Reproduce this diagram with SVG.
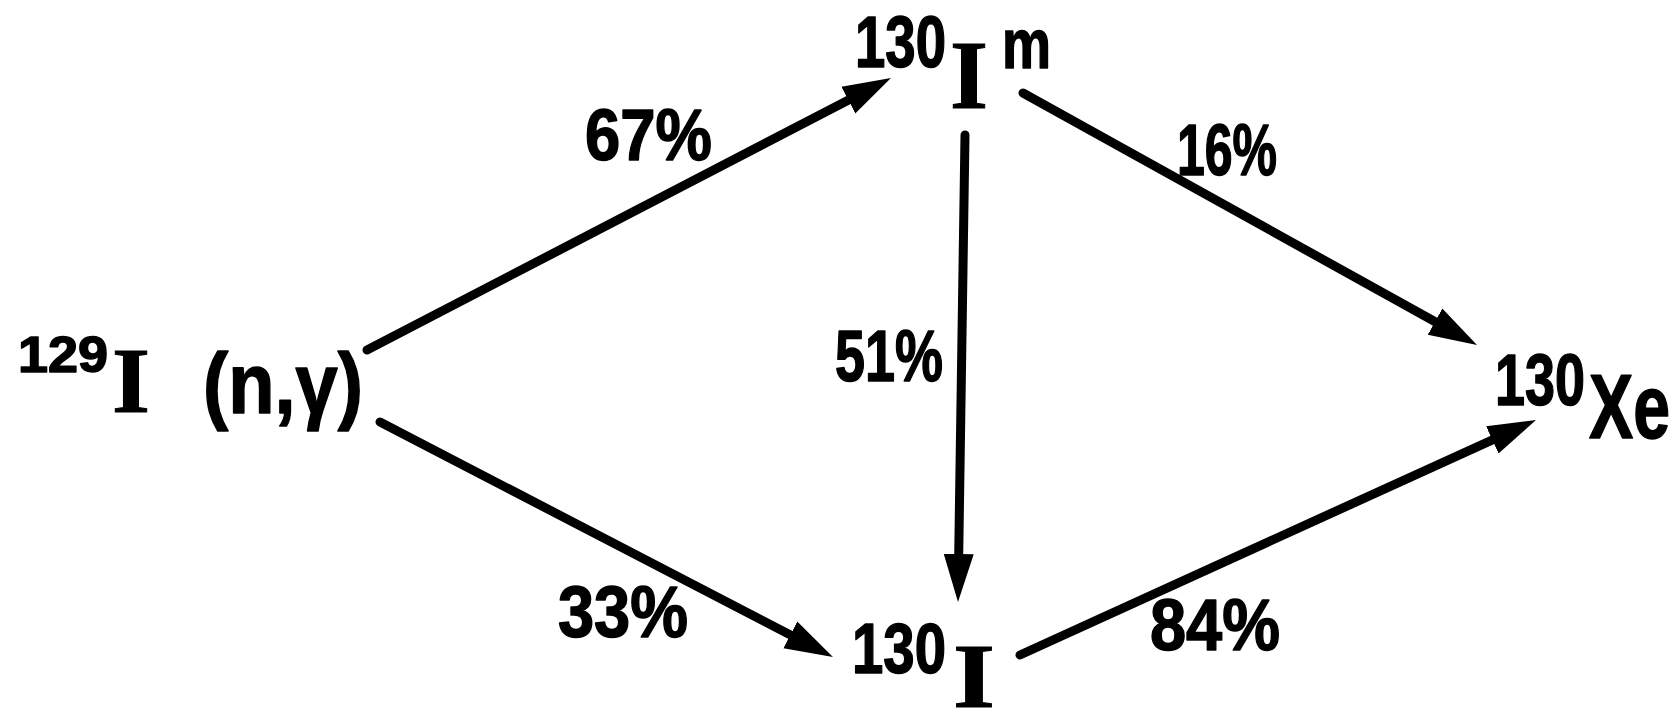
<svg xmlns="http://www.w3.org/2000/svg" width="1675" height="709" viewBox="0 0 1675 709">
<style>
.t{font-family:"Liberation Sans",Arial,sans-serif;font-weight:bold;fill:#000;stroke:#000;stroke-width:1.5;stroke-linejoin:round}
.s{font-family:"Liberation Serif","Times New Roman",serif;font-weight:bold;fill:#000;stroke:#000;stroke-width:1}
.c{stroke:#000;stroke-width:9;fill:none;stroke-linecap:round;marker-end:url(#ah)}
</style>
<defs>
<marker id="ah" viewBox="0 0 48 34" refX="28" refY="17" markerWidth="48" markerHeight="34" markerUnits="userSpaceOnUse" orient="auto">
<path d="M0,2 L48,17 L0,32 Z" fill="#000"/>
</marker>
</defs>
<rect width="1675" height="709" fill="#fff"/>
<g id="connectors">
<line class="c" x1="367" y1="350" x2="873.2" y2="87.2"/>
<line class="c" x1="380" y1="422" x2="815.2" y2="647.8"/>
<line class="c" x1="965" y1="135" x2="958.3" y2="582"/>
<line class="c" x1="1023" y1="93" x2="1459.5" y2="335.3"/>
<line class="c" x1="1020" y1="655" x2="1517.8" y2="428.3"/>
<text class="t" x="585" y="160" font-size="72" textLength="127" lengthAdjust="spacingAndGlyphs">67%</text>
<text class="t" x="1177" y="175" font-size="72" textLength="100" lengthAdjust="spacingAndGlyphs">16%</text>
<text class="t" x="835" y="381" font-size="72" textLength="108" lengthAdjust="spacingAndGlyphs">51%</text>
<text class="t" x="558" y="637" font-size="72" textLength="130" lengthAdjust="spacingAndGlyphs">33%</text>
<text class="t" x="1150" y="650" font-size="72" textLength="130" lengthAdjust="spacingAndGlyphs">84%</text>
</g>
<g id="node-129I">
<text class="t" x="18" y="372" font-size="50" textLength="90" lengthAdjust="spacingAndGlyphs">129</text>
<text class="s" x="112" y="412" font-size="94" textLength="38" lengthAdjust="spacingAndGlyphs">I</text>
<text class="t" x="203" y="413" font-size="85" textLength="160" lengthAdjust="spacingAndGlyphs">(n,γ)</text>
</g>
<g id="node-130Im">
<text class="t" x="855" y="67" font-size="72" textLength="91" lengthAdjust="spacingAndGlyphs">130</text>
<text class="s" x="950" y="108" font-size="98" textLength="38" lengthAdjust="spacingAndGlyphs">I</text>
<text class="t" x="1002" y="68" font-size="71" textLength="49" lengthAdjust="spacingAndGlyphs">m</text>
</g>
<g id="node-130Xe">
<text class="t" x="1495" y="405" font-size="72" textLength="90" lengthAdjust="spacingAndGlyphs">130</text>
<text class="t" x="1589" y="438" font-size="90" textLength="81" lengthAdjust="spacingAndGlyphs">Xe</text>
</g>
<g id="node-130I">
<text class="t" x="852" y="673" font-size="70" textLength="94" lengthAdjust="spacingAndGlyphs">130</text>
<text class="s" x="953" y="707" font-size="92" textLength="42" lengthAdjust="spacingAndGlyphs">I</text>
</g>
</svg>
